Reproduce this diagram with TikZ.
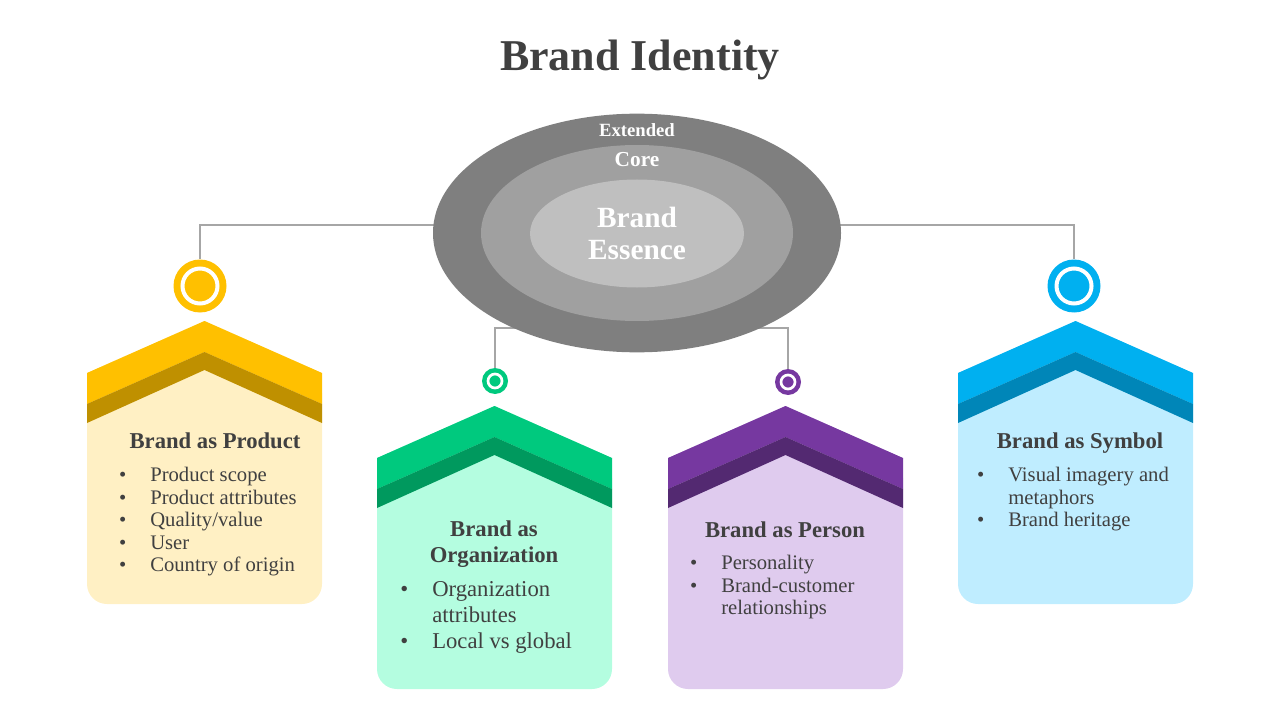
\documentclass[tikz,border=0pt]{standalone}
\usepackage{fontspec}
\setmainfont{Liberation Serif}
\usepackage{xcolor}
\usetikzlibrary{shapes.geometric}
\definecolor{ink}{HTML}{404040}
\definecolor{linkgray}{HTML}{A6A6A6}
\definecolor{extgray}{HTML}{7F7F7F}
\definecolor{coregray}{HTML}{A0A0A0}
\definecolor{essgray}{HTML}{BFBFBF}
\definecolor{prodA}{HTML}{FFC000}
\definecolor{prodB}{HTML}{BF9000}
\definecolor{prodC}{HTML}{FFF0C4}
\definecolor{orgA}{HTML}{00C97E}
\definecolor{orgB}{HTML}{00995E}
\definecolor{orgC}{HTML}{B4FDE0}
\definecolor{persA}{HTML}{7638A0}
\definecolor{persB}{HTML}{532971}
\definecolor{persC}{HTML}{DFCBEE}
\definecolor{symA}{HTML}{00B0F0}
\definecolor{symB}{HTML}{0086B8}
\definecolor{symC}{HTML}{BFEDFF}
\newcommand\bul{\llap{\textbullet\hspace{18pt}}}

\begin{document}
\begin{tikzpicture}[x=0.75pt,y=-0.75pt,
  link/.style={draw=linkgray,line width=1.5pt},
  ring/.style={circle,inner sep=0pt,minimum size=39.75pt},
  smallring/.style={circle,inner sep=0pt,minimum size=19.5pt},
  layer/.style={ellipse,inner sep=0pt},
  layertext/.style={font=\bfseries,text=white,align=center},
  head/.style={font=\fontsize{17}{19}\selectfont\bfseries,text=ink,align=center,anchor=base},
  items/.style={font=\fontsize{15.5}{16.9}\selectfont,text=ink,align=left,anchor=north west,inner sep=0pt},
  bigitems/.style={items,font=\fontsize{17}{19.5}\selectfont}]

\path[use as bounding box] (0,0) rectangle (1280,720);
\node[font=\fontsize{33}{36}\selectfont\bfseries,text=ink,anchor=base] (title) at (640,71) {Brand Identity};

% cards: left x / peak y / colours
\foreach \xl/\yt/\ca/\cb/\cc in {87/321/prodA/prodB/prodC,377/406/orgA/orgB/orgC,668/406/persA/persB/persC,958/321/symA/symB/symC}{
  \fill[\cc,rounded corners=15pt] (\xl,\yt+52) rectangle (\xl+235,\yt+283);
  \fill[\cc] (\xl,\yt+52)--(\xl+117.5,\yt)--(\xl+235,\yt+52)--cycle;
  \fill[\ca] (\xl,\yt+52)--(\xl+117.5,\yt)--(\xl+235,\yt+52)--(\xl+235,\yt+83)--(\xl+117.5,\yt+31)--(\xl,\yt+83)--cycle;
  \fill[\cb] (\xl,\yt+83)--(\xl+117.5,\yt+31)--(\xl+235,\yt+83)--(\xl+235,\yt+102)--(\xl+117.5,\yt+49)--(\xl,\yt+102)--cycle;
}

% rings
\node[ring,fill=prodA] (ringP) at (200,286) {};
\node[ring,fill=symA] (ringS) at (1074,286) {};
\node[smallring,fill=orgA] (ringO) at (495,381) {};
\node[smallring,fill=persA] (ringE) at (788,382) {};
\draw[white,line width=3pt] (ringP) circle (17.5);
\draw[white,line width=3pt] (ringS) circle (17.5);
\draw[white,line width=2pt] (ringO) circle (7);
\draw[white,line width=2pt] (ringE) circle (7);

% connectors
\coordinate (hubT) at (637,225);
\coordinate (hubB) at (640,328);
\draw[link] (hubT) -| (ringP.north);
\draw[link] (hubT) -| (ringS.north);
\draw[link] (ringO.north) |- (hubB) -| (ringE.north);

% layers
\node[layer,fill=extgray,minimum width=306pt,minimum height=179pt] (ext) at (637,233) {};
\node[layer,fill=coregray,minimum width=234pt,minimum height=132pt] (core) at (637,233) {};
\node[layer,fill=essgray,minimum width=160.5pt,minimum height=81pt] (ess) at (637,233.5) {};
\node[layertext,font=\fontsize{14}{16}\selectfont\bfseries] (extlab) at (637,130) {Extended};
\node[layertext,font=\fontsize{16}{18}\selectfont\bfseries] (corelab) at (637,160) {Core};
\node[layertext,font=\fontsize{22}{24}\selectfont\bfseries] (esslab) at (637,233) {Brand\\Essence};

% card texts
\node[head] (hProd) at (215,448) {Brand as Product};
\node[items] (lProd) at (150,467) {\bul Product scope\\\bul Product attributes\\\bul Quality/value\\\bul User\\\bul Country of origin};
\node[head] (hOrg) at (494,562) {Brand as\\Organization};
\node[bigitems] (lOrg) at (432,581) {\bul Organization\\attributes\\\bul Local vs global};
\node[head] (hPers) at (785,537) {Brand as Person};
\node[items] (lPers) at (721,555) {\bul Personality\\\bul Brand-customer\\relationships};
\node[head] (hSym) at (1080,448) {Brand as Symbol};
\node[items] (lSym) at (1008,467) {\bul Visual imagery and\\metaphors\\\bul Brand heritage};

\end{tikzpicture}
\end{document}
